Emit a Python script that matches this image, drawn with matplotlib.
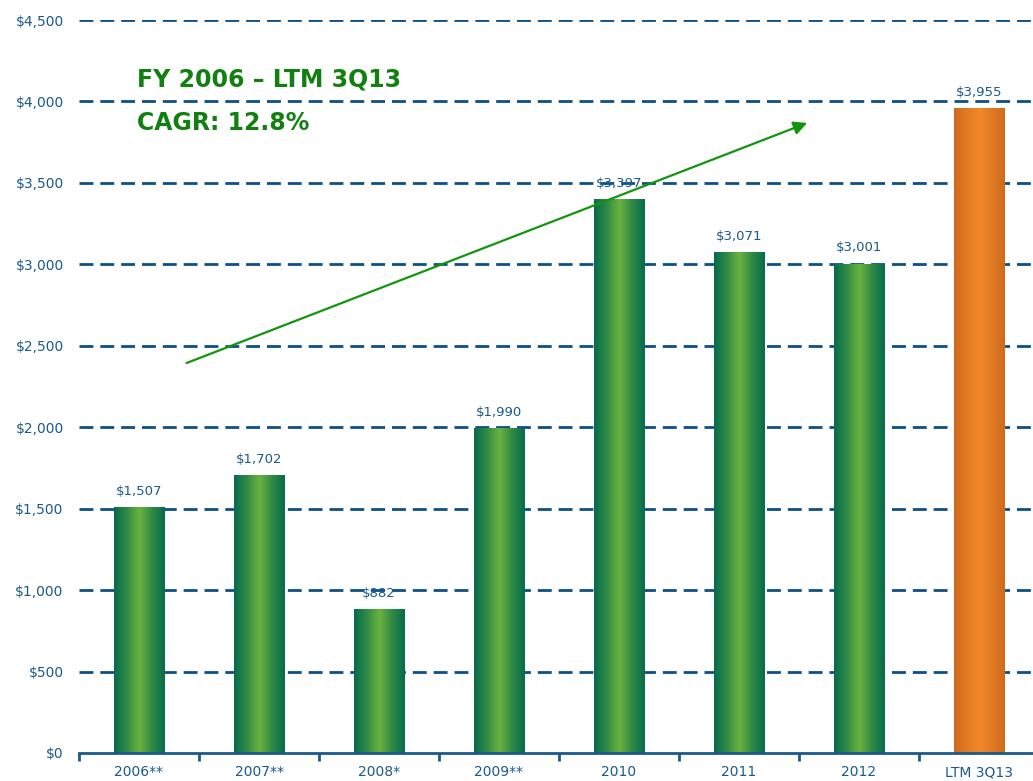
import numpy as np
import matplotlib
matplotlib.use("Agg")
import matplotlib.pyplot as plt
from matplotlib.colors import LinearSegmentedColormap

categories = ["2006**", "2007**", "2008*", "2009**", "2010", "2011", "2012", "LTM 3Q13"]
values = [1507, 1702, 882, 1990, 3397, 3071, 3001, 3955]
labels = ["$1,507", "$1,702", "$882", "$1,990", "$3,397", "$3,071", "$3,001", "$3,955"]
yticks = [0, 500, 1000, 1500, 2000, 2500, 3000, 3500, 4000, 4500]
ytick_labels = ["$0", "$500", "$1,000", "$1,500", "$2,000", "$2,500", "$3,000", "$3,500", "$4,000", "$4,500"]
title_lines = ["FY 2006 \u2013 LTM 3Q13", "CAGR: 12.8%"]

blue = "#1a5a8c"
green_txt = "#118011"

fig = plt.figure(figsize=(10.33, 7.81), dpi=100)
ax = fig.add_axes([79/1033, (781-753)/781, 1 - 79/1033, 733/781])

ax.set_xlim(-0.5, 7.45)
ax.set_ylim(0, 4500)

# grid
for t in yticks[1:]:
    ax.axhline(t, color="#0d4f87", lw=2, ls=(0, (5, 2.5)), zorder=1)

green_cmap = LinearSegmentedColormap.from_list("g", ["#066b4d", "#2f8a45", "#6bb33f", "#2f8a45", "#066b4d"])
orange_cmap = LinearSegmentedColormap.from_list("o", ["#cf6a1d", "#e07a24", "#f2882a", "#e07a24", "#cf6a1d"])
grad = np.linspace(0, 1, 256).reshape(1, -1)

bw = 0.42
bars = ax.bar(range(len(values)), values, width=bw, color="none", zorder=2)
for i, (b, v) in enumerate(zip(bars, values)):
    cmap = orange_cmap if i == len(values) - 1 else green_cmap
    x0 = b.get_x()
    ax.imshow(grad, cmap=cmap, aspect="auto", extent=[x0, x0 + bw, 0, v], zorder=2, interpolation="bilinear")
    ax.text(i, v + 60, labels[i], ha="center", va="bottom", color=blue, fontsize=9.5, zorder=3)
ax.set_xlim(-0.5, 7.45)
ax.set_ylim(0, 4500)

# axes styling
for s in ["top", "right", "left"]:
    ax.spines[s].set_visible(False)
ax.spines["bottom"].set_color(blue)
ax.spines["bottom"].set_linewidth(2)
ax.set_yticks(yticks)
ax.set_yticklabels(ytick_labels, color=blue, fontsize=10)
ax.tick_params(axis="y", length=0, pad=11)
ax.set_xticks(range(len(categories)))
ax.set_xticklabels(categories, color=blue, fontsize=10)
ax.tick_params(axis="x", length=0, pad=9)
ax.set_xticks(np.arange(-0.5, 7.5, 1), minor=True)
ax.tick_params(axis="x", which="minor", length=6, width=2, color=blue, direction="out")

# arrow
ax.annotate("", xy=(5.59, 3874), xytext=(0.375, 2388),
            arrowprops=dict(arrowstyle="-|>", color="#13960f", lw=1.6, mutation_scale=20), zorder=4)

ax.text(-0.02, 4132, title_lines[0], color=green_txt, fontsize=17, fontweight="bold", ha="left", va="center")
ax.text(-0.02, 3868, title_lines[1], color=green_txt, fontsize=17, fontweight="bold", ha="left", va="center")

fig.savefig("out.png", dpi=100)
